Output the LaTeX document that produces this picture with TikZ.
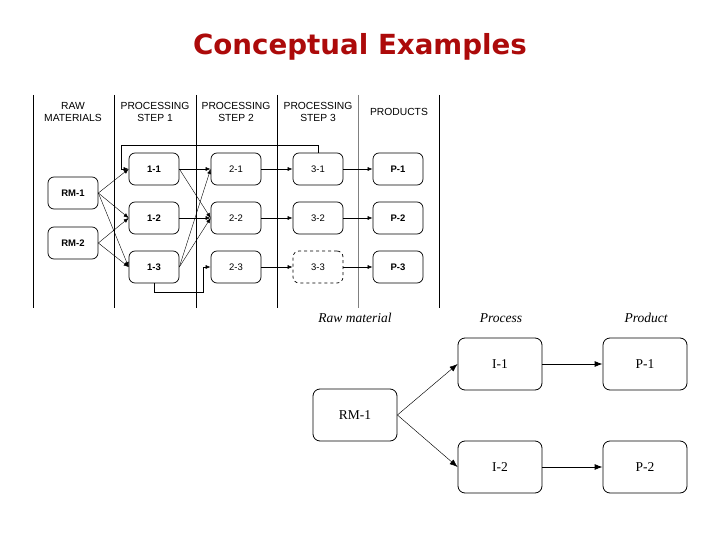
\documentclass[tikz,border=0pt]{standalone}
\usepackage{fontspec}
\setmainfont{Liberation Serif}
\setsansfont{Liberation Sans}
\newfontfamily\titlefont{DejaVu Sans}
\usetikzlibrary{arrows.meta}
\definecolor{titlered}{RGB}{172,10,10}
\begin{document}
\begin{tikzpicture}[x=1pt,y=-1pt,
 box/.style={draw, rounded corners=6pt, minimum width=50pt, minimum height=32pt, inner sep=0pt, font=\sffamily\fontsize{9.5}{10}\selectfont, line width=0.7pt},
 boldbox/.style={box, font=\sffamily\bfseries\fontsize{9.5}{10}\selectfont},
 bigbox/.style={draw, rounded corners=7pt, minimum width=84pt, minimum height=52pt, inner sep=0pt, font=\fontsize{13.5}{15}\selectfont, line width=0.8pt},
 head/.style={font=\sffamily\fontsize{10.3}{12}\selectfont, align=center},
 ihead/.style={font=\itshape\fontsize{13.5}{15}\selectfont},
 arr/.style={-{Latex[length=5pt,width=4pt]}, line width=0.6pt},
 darr/.style={-{Latex[length=5pt,width=4pt]}, line width=0.4pt},
 barr/.style={-{Latex[length=8pt,width=6pt]}, line width=0.8pt},
 bdarr/.style={-{Latex[length=8pt,width=6pt]}, line width=0.45pt},
 vline/.style={line width=0.7pt}
]
\useasboundingbox (0,0) rectangle (720,540);
\node[font=\titlefont\bfseries\fontsize{27.7}{30}\selectfont, text=titlered] (title) at (360,47) {Conceptual Examples};

% column separators
\draw[vline] (33,95) -- (33,308);
\draw[vline] (114,95) -- (114,308);
\draw[vline] (196,95) -- (196,308);
\draw[vline] (277,95) -- (277,308);
\draw[vline, gray] (358,95) -- (358,308);
\draw[vline] (439,95) -- (439,308);

% headers
\node[head] (h0) at (73,112) {RAW\\MATERIALS};
\node[head] (h1) at (155,112) {PROCESSING\\STEP 1};
\node[head] (h2) at (236,112) {PROCESSING\\STEP 2};
\node[head] (h3) at (318,112) {PROCESSING\\STEP 3};
\node[head] (h4) at (399,112) {PRODUCTS};

% boxes
\node[boldbox] (rm1) at (73,193) {RM-1};
\node[boldbox] (rm2) at (73,243) {RM-2};
\node[boldbox] (s11) at (154,169) {1-1};
\node[boldbox] (s12) at (154,218) {1-2};
\node[boldbox] (s13) at (154,267) {1-3};
\node[box] (s21) at (236,169) {2-1};
\node[box] (s22) at (236,218) {2-2};
\node[box] (s23) at (236,267) {2-3};
\node[box] (s31) at (318,169) {3-1};
\node[box] (s32) at (318,218) {3-2};
\node[box, dashed] (s33) at (318,267) {3-3};
\node[boldbox] (p1) at (398,169) {P-1};
\node[boldbox] (p2) at (398,218) {P-2};
\node[boldbox] (p3) at (398,267) {P-3};

% raw -> step1
\draw[darr] (rm1.east) -- (s11.west);
\draw[darr] (rm1.east) -- (s12.west);
\draw[darr] (rm1.east) -- (s13.west);
\draw[darr] (rm2.east) -- (s12.west);
\draw[darr] (rm2.east) -- (s13.west);
% step1 -> step2
\draw[arr] (s11.east) -- (s21.west);
\draw[darr] (s11.east) -- (s22.west);
\draw[arr] (s12.east) -- (s22.west);
\draw[darr] (s13.east) -- (s21.west);
\draw[darr] (s13.east) -- (s22.west);
\coordinate (lp) at (203,292);
\draw[arr] (s13.south) |- (lp) |- (s23.west);
% step2 -> step3
\draw[arr] (s21.east) -- (s31.west);
\draw[arr] (s22.east) -- (s32.west);
\draw[arr] (s23.east) -- (s33.west);
% step3 -> products
\draw[arr] (s31.east) -- (p1.west);
\draw[arr] (s32.east) -- (p2.west);
\draw[arr] (s33.east) -- (p3.west);
% feedback
\coordinate (fb) at (121,145);
\draw[arr] (s31.north) |- (fb) |- (s11.west);

% lower diagram
\node[ihead] (l0) at (355,318) {Raw material};
\node[ihead] (l1) at (501,318) {Process};
\node[ihead] (l2) at (646,318) {Product};
\node[bigbox] (brm) at (355,415) {RM-1};
\node[bigbox] (bi1) at (500,364) {I-1};
\node[bigbox] (bi2) at (500,467) {I-2};
\node[bigbox] (bp1) at (645,364) {P-1};
\node[bigbox] (bp2) at (645,467) {P-2};
\draw[bdarr] (brm.east) -- (bi1.west);
\draw[bdarr] (brm.east) -- (bi2.west);
\draw[barr] (bi1.east) -- (bp1.west);
\draw[barr] (bi2.east) -- (bp2.west);
\end{tikzpicture}
\end{document}
